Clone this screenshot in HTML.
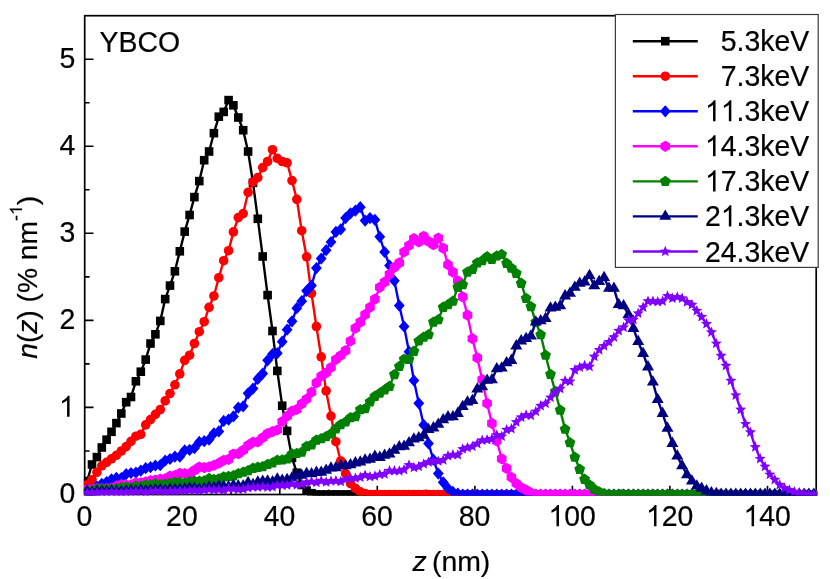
<!DOCTYPE html>
<html><head><meta charset="utf-8"><title>YBCO n(z)</title>
<style>
html,body{margin:0;padding:0;background:#fff;}
body{width:830px;height:579px;overflow:hidden;}
svg{display:block;will-change:transform;}
text{font-family:"Liberation Sans",sans-serif;font-size:28px;fill:#000;stroke:#000;stroke-width:0.2px;}
.i{font-style:italic;}
.h{fill:none;stroke:none;}
</style></head><body>
<svg width="830" height="579" viewBox="0 0 830 579">
<rect width="830" height="579" fill="#fff"/>
<defs>
<g id="sq"><rect x="-4.3" y="-4.3" width="8.6" height="8.6"/></g>
<g id="ci"><circle r="4.8"/></g>
<g id="di"><polygon points="0,-6.1 5.4,0 0,6.1 -5.4,0"/></g>
<g id="hx"><polygon points="0,-5.6 4.8,-2.8 4.8,2.8 0,5.6 -4.8,2.8 -4.8,-2.8"/></g>
<g id="pe"><polygon points="0,-5.7 5.4,-1.8 3.4,4.6 -3.4,4.6 -5.4,-1.8"/></g>
<g id="tr"><polygon points="0,-6.9 6,3.4 -6,3.4"/></g>
<g id="st"><polygon points="0,-5.8 1.5,-2.1 5.5,-1.8 2.5,0.8 3.4,4.7 0,2.6 -3.4,4.7 -2.5,0.8 -5.5,-1.8 -1.5,-2.1"/></g>
<path id="one" d="M763 0H583V1147Q518 1085 412.5 1023T223 930V1104Q373 1174.5 485.5 1275T644 1466H763Z"/>
<clipPath id="cp"><rect x="83.85" y="14.9" width="733.35" height="480.7"/></clipPath>
</defs>
<g stroke="#000" stroke-width="1.7" fill="none" stroke-linecap="butt">
<rect x="84.7" y="15.7" width="731.5" height="478.8"/>
<path d="M84.7 494.5h8.8M84.7 451h4.9M84.7 407.4h8.8M84.7 363.9h4.9M84.7 320.4h8.8M84.7 276.9h4.9M84.7 233.3h8.8M84.7 189.8h4.9M84.7 146.3h8.8M84.7 102.7h4.9M84.7 59.2h8.8M133.5 494.5v-4.9M182.2 494.5v-8.8M231 494.5v-4.9M279.8 494.5v-8.8M328.6 494.5v-4.9M377.3 494.5v-8.8M426.1 494.5v-4.9M474.9 494.5v-8.8M523.6 494.5v-4.9M572.4 494.5v-8.8M621.2 494.5v-4.9M669.9 494.5v-8.8M718.7 494.5v-4.9M767.5 494.5v-8.8" stroke-width="1.6"/>
</g>
<g transform="translate(75.4 503.4) scale(1.015 1.055)"><text text-anchor="end">0</text></g>
<g transform="translate(74.8 416.8) scale(1.015 1.055)"><text text-anchor="end"><tspan class="h">1</tspan></text><use href="#one" transform="translate(-15.58 0.00) scale(0.01367 -0.01367)"/></g>
<g transform="translate(75.4 329.3) scale(1.015 1.055)"><text text-anchor="end">2</text></g>
<g transform="translate(75.4 242.2) scale(1.015 1.055)"><text text-anchor="end">3</text></g>
<g transform="translate(75.4 155.2) scale(1.015 1.055)"><text text-anchor="end">4</text></g>
<g transform="translate(75.4 68.1) scale(1.015 1.055)"><text text-anchor="end">5</text></g>
<g transform="translate(84.4 526.2) scale(1.015 1.055)"><text text-anchor="middle">0</text></g>
<g transform="translate(181.9 526.2) scale(1.015 1.055)"><text text-anchor="middle">20</text></g>
<g transform="translate(279.5 526.2) scale(1.015 1.055)"><text text-anchor="middle">40</text></g>
<g transform="translate(377 526.2) scale(1.015 1.055)"><text text-anchor="middle">60</text></g>
<g transform="translate(474.6 526.2) scale(1.015 1.055)"><text text-anchor="middle">80</text></g>
<g transform="translate(572.1 526.2) scale(1.015 1.055)"><text text-anchor="middle"><tspan class="h">1</tspan>00</text><use href="#one" transform="translate(-23.36 0.00) scale(0.01367 -0.01367)"/></g>
<g transform="translate(669.6 526.2) scale(1.015 1.055)"><text text-anchor="middle"><tspan class="h">1</tspan>20</text><use href="#one" transform="translate(-23.36 0.00) scale(0.01367 -0.01367)"/></g>
<g transform="translate(767.2 526.2) scale(1.015 1.055)"><text text-anchor="middle"><tspan class="h">1</tspan>40</text><use href="#one" transform="translate(-23.36 0.00) scale(0.01367 -0.01367)"/></g>
<g transform="translate(99.6 51.8) scale(1.015 1.055)"><text>YBCO</text></g>
<g transform="translate(451.4 570.8) scale(1.015 1.0)"><text text-anchor="middle"><tspan class="i">z</tspan><tspan dx="-2.6"> (nm)</tspan></text></g>
<g transform="translate(37.3 358.8) rotate(-90) scale(1.007 1.0)"><text><tspan class="i">n</tspan>(<tspan class="i">z</tspan>) (% nm<tspan font-size="17.5" dy="-15.2">-<tspan class="h">1</tspan></tspan><tspan dy="15.2">)</tspan></text><use href="#one" transform="translate(142.66 -15.20) scale(0.00854 -0.00854)"/></g>
<g clip-path="url(#cp)">
<g fill="#000000" stroke="none">
<polyline points="87.1,481 92,464.5 96.9,457.1 101.8,447.5 106.6,439.7 111.5,431.8 116.4,423.1 121.3,413.5 126.2,402.2 131,397 135.9,381.3 140.8,371.7 145.7,359.6 150.5,343.5 155.4,334.3 160.3,320.9 165.2,299.1 170,285.6 174.9,271.3 179.8,251.3 184.7,231.6 189.6,215 194.4,197.1 199.3,181.1 204.2,160.2 209.1,151.5 213.9,133.2 218.8,116.7 223.7,111.9 228.6,100.1 233.4,105.3 238.3,117.5 243.2,130.2 248.1,151.5 253,182.8 257.8,218.8 262.7,256.5 267.6,295.1 272.5,331 277.3,370.9 282.2,405.7 287.1,430.9 292,457.9 296.8,472.7 301.7,484.9 306.6,490.6 311.5,493.2 316.4,494.5 321.2,494.5 326.1,494.5 331,494.5 335.9,494.5 340.7,494.5 345.6,494.5 350.5,494.5 355.4,494.5 360.3,494.5 365.1,494.5 370,494.5 374.9,494.5 379.8,494.5 384.6,494.5 389.5,494.5 394.4,494.5 399.3,494.5 404.1,494.5 409,494.5 413.9,494.5 418.8,494.5 423.7,494.5 428.5,494.5 433.4,494.5 438.3,494.5 443.2,494.5 448,494.5 452.9,494.5 457.8,494.5 462.7,494.5 467.5,494.5 472.4,494.5 477.3,494.5 482.2,494.5 487.1,494.5 491.9,494.5 496.8,494.5 501.7,494.5 506.6,494.5 511.4,494.5 516.3,494.5 521.2,494.5 526.1,494.5 530.9,494.5 535.8,494.5 540.7,494.5 545.6,494.5 550.5,494.5 555.3,494.5 560.2,494.5 565.1,494.5 570,494.5 574.8,494.5 579.7,494.5 584.6,494.5 589.5,494.5 594.3,494.5 599.2,494.5 604.1,494.5 609,494.5 613.9,494.5 618.7,494.5 623.6,494.5 628.5,494.5 633.4,494.5 638.2,494.5 643.1,494.5 648,494.5 652.9,494.5 657.7,494.5 662.6,494.5 667.5,494.5 672.4,494.5 677.3,494.5 682.1,494.5 687,494.5 691.9,494.5 696.8,494.5 701.6,494.5 706.5,494.5 711.4,494.5 716.3,494.5 721.1,494.5 726,494.5 730.9,494.5 735.8,494.5 740.7,494.5 745.5,494.5 750.4,494.5 755.3,494.5 760.2,494.5 765,494.5 769.9,494.5 774.8,494.5 779.7,494.5 784.5,494.5 789.4,494.5 794.3,494.5 799.2,494.5 804.1,494.5 808.9,494.5 813.8,494.5" fill="none" stroke="#000000" stroke-width="2.4" stroke-linejoin="round"/>
<use href="#sq" x="87.1" y="481"/><use href="#sq" x="92" y="464.5"/><use href="#sq" x="96.9" y="457.1"/><use href="#sq" x="101.8" y="447.5"/><use href="#sq" x="106.6" y="439.7"/><use href="#sq" x="111.5" y="431.8"/><use href="#sq" x="116.4" y="423.1"/><use href="#sq" x="121.3" y="413.5"/><use href="#sq" x="126.2" y="402.2"/><use href="#sq" x="131" y="397"/><use href="#sq" x="135.9" y="381.3"/><use href="#sq" x="140.8" y="371.7"/><use href="#sq" x="145.7" y="359.6"/><use href="#sq" x="150.5" y="343.5"/><use href="#sq" x="155.4" y="334.3"/><use href="#sq" x="160.3" y="320.9"/><use href="#sq" x="165.2" y="299.1"/><use href="#sq" x="170" y="285.6"/><use href="#sq" x="174.9" y="271.3"/><use href="#sq" x="179.8" y="251.3"/><use href="#sq" x="184.7" y="231.6"/><use href="#sq" x="189.6" y="215"/><use href="#sq" x="194.4" y="197.1"/><use href="#sq" x="199.3" y="181.1"/><use href="#sq" x="204.2" y="160.2"/><use href="#sq" x="209.1" y="151.5"/><use href="#sq" x="213.9" y="133.2"/><use href="#sq" x="218.8" y="116.7"/><use href="#sq" x="223.7" y="111.9"/><use href="#sq" x="228.6" y="100.1"/><use href="#sq" x="233.4" y="105.3"/><use href="#sq" x="238.3" y="117.5"/><use href="#sq" x="243.2" y="130.2"/><use href="#sq" x="248.1" y="151.5"/><use href="#sq" x="253" y="182.8"/><use href="#sq" x="257.8" y="218.8"/><use href="#sq" x="262.7" y="256.5"/><use href="#sq" x="267.6" y="295.1"/><use href="#sq" x="272.5" y="331"/><use href="#sq" x="277.3" y="370.9"/><use href="#sq" x="282.2" y="405.7"/><use href="#sq" x="287.1" y="430.9"/><use href="#sq" x="292" y="457.9"/><use href="#sq" x="296.8" y="472.7"/><use href="#sq" x="301.7" y="484.9"/><use href="#sq" x="306.6" y="490.6"/><use href="#sq" x="311.5" y="493.2"/><use href="#sq" x="316.4" y="494.5"/><use href="#sq" x="321.2" y="494.5"/><use href="#sq" x="326.1" y="494.5"/><use href="#sq" x="331" y="494.5"/><use href="#sq" x="335.9" y="494.5"/><use href="#sq" x="340.7" y="494.5"/><use href="#sq" x="345.6" y="494.5"/><use href="#sq" x="350.5" y="494.5"/><use href="#sq" x="355.4" y="494.5"/><use href="#sq" x="360.3" y="494.5"/><use href="#sq" x="365.1" y="494.5"/><use href="#sq" x="370" y="494.5"/><use href="#sq" x="374.9" y="494.5"/><use href="#sq" x="379.8" y="494.5"/><use href="#sq" x="384.6" y="494.5"/><use href="#sq" x="389.5" y="494.5"/><use href="#sq" x="394.4" y="494.5"/><use href="#sq" x="399.3" y="494.5"/><use href="#sq" x="404.1" y="494.5"/><use href="#sq" x="409" y="494.5"/><use href="#sq" x="413.9" y="494.5"/><use href="#sq" x="418.8" y="494.5"/><use href="#sq" x="423.7" y="494.5"/><use href="#sq" x="428.5" y="494.5"/><use href="#sq" x="433.4" y="494.5"/><use href="#sq" x="438.3" y="494.5"/><use href="#sq" x="443.2" y="494.5"/><use href="#sq" x="448" y="494.5"/><use href="#sq" x="452.9" y="494.5"/><use href="#sq" x="457.8" y="494.5"/><use href="#sq" x="462.7" y="494.5"/><use href="#sq" x="467.5" y="494.5"/><use href="#sq" x="472.4" y="494.5"/><use href="#sq" x="477.3" y="494.5"/><use href="#sq" x="482.2" y="494.5"/><use href="#sq" x="487.1" y="494.5"/><use href="#sq" x="491.9" y="494.5"/><use href="#sq" x="496.8" y="494.5"/><use href="#sq" x="501.7" y="494.5"/><use href="#sq" x="506.6" y="494.5"/><use href="#sq" x="511.4" y="494.5"/><use href="#sq" x="516.3" y="494.5"/><use href="#sq" x="521.2" y="494.5"/><use href="#sq" x="526.1" y="494.5"/><use href="#sq" x="530.9" y="494.5"/><use href="#sq" x="535.8" y="494.5"/><use href="#sq" x="540.7" y="494.5"/><use href="#sq" x="545.6" y="494.5"/><use href="#sq" x="550.5" y="494.5"/><use href="#sq" x="555.3" y="494.5"/><use href="#sq" x="560.2" y="494.5"/><use href="#sq" x="565.1" y="494.5"/><use href="#sq" x="570" y="494.5"/><use href="#sq" x="574.8" y="494.5"/><use href="#sq" x="579.7" y="494.5"/><use href="#sq" x="584.6" y="494.5"/><use href="#sq" x="589.5" y="494.5"/><use href="#sq" x="594.3" y="494.5"/><use href="#sq" x="599.2" y="494.5"/><use href="#sq" x="604.1" y="494.5"/><use href="#sq" x="609" y="494.5"/><use href="#sq" x="613.9" y="494.5"/><use href="#sq" x="618.7" y="494.5"/><use href="#sq" x="623.6" y="494.5"/><use href="#sq" x="628.5" y="494.5"/><use href="#sq" x="633.4" y="494.5"/><use href="#sq" x="638.2" y="494.5"/><use href="#sq" x="643.1" y="494.5"/><use href="#sq" x="648" y="494.5"/><use href="#sq" x="652.9" y="494.5"/><use href="#sq" x="657.7" y="494.5"/><use href="#sq" x="662.6" y="494.5"/><use href="#sq" x="667.5" y="494.5"/><use href="#sq" x="672.4" y="494.5"/><use href="#sq" x="677.3" y="494.5"/><use href="#sq" x="682.1" y="494.5"/><use href="#sq" x="687" y="494.5"/><use href="#sq" x="691.9" y="494.5"/><use href="#sq" x="696.8" y="494.5"/><use href="#sq" x="701.6" y="494.5"/><use href="#sq" x="706.5" y="494.5"/><use href="#sq" x="711.4" y="494.5"/><use href="#sq" x="716.3" y="494.5"/><use href="#sq" x="721.1" y="494.5"/><use href="#sq" x="726" y="494.5"/><use href="#sq" x="730.9" y="494.5"/><use href="#sq" x="735.8" y="494.5"/><use href="#sq" x="740.7" y="494.5"/><use href="#sq" x="745.5" y="494.5"/><use href="#sq" x="750.4" y="494.5"/><use href="#sq" x="755.3" y="494.5"/><use href="#sq" x="760.2" y="494.5"/><use href="#sq" x="765" y="494.5"/><use href="#sq" x="769.9" y="494.5"/><use href="#sq" x="774.8" y="494.5"/><use href="#sq" x="779.7" y="494.5"/><use href="#sq" x="784.5" y="494.5"/><use href="#sq" x="789.4" y="494.5"/><use href="#sq" x="794.3" y="494.5"/><use href="#sq" x="799.2" y="494.5"/><use href="#sq" x="804.1" y="494.5"/><use href="#sq" x="808.9" y="494.5"/><use href="#sq" x="813.8" y="494.5"/>
</g>
<g fill="#ff0000" stroke="none">
<polyline points="87.1,484.9 92,479.7 96.9,472.3 101.8,465.8 106.6,462.3 111.5,458.8 116.4,455.3 121.3,451 126.2,446.6 131,441.4 135.9,436.2 140.8,434.4 145.7,424.9 150.5,419.6 155.4,414.4 160.3,409.6 165.2,400.9 170,393.5 174.9,384.8 179.8,373.9 184.7,360.4 189.6,355.2 194.4,343.5 199.3,331.7 204.2,321.7 209.1,307.3 213.9,296 218.8,277.7 223.7,260.7 228.6,250.7 233.4,231.9 238.3,217.6 243.2,213.6 248.1,192.4 253,182 257.8,177.6 262.7,167.6 267.6,161.5 272.5,149.7 277.3,158.4 282.2,161.5 287.1,162.8 292,180.6 296.8,199.4 301.7,230.7 306.6,256.8 311.5,293.4 316.4,326.5 321.2,356.9 326.1,390.9 331,416.1 335.9,441.7 340.7,461 345.6,473.6 350.5,483.5 355.4,488.4 360.3,491.9 365.1,493.6 370,494.5 374.9,494.5 379.8,494.5 384.6,494.5 389.5,494.5 394.4,494.5 399.3,494.5 404.1,494.5 409,494.5 413.9,494.5 418.8,494.5 423.7,494.5 428.5,494.5 433.4,494.5 438.3,494.5 443.2,494.5 448,494.5 452.9,494.5 457.8,494.5 462.7,494.5 467.5,494.5 472.4,494.5 477.3,494.5 482.2,494.5 487.1,494.5 491.9,494.5 496.8,494.5 501.7,494.5 506.6,494.5 511.4,494.5 516.3,494.5 521.2,494.5 526.1,494.5 530.9,494.5 535.8,494.5 540.7,494.5 545.6,494.5 550.5,494.5 555.3,494.5 560.2,494.5 565.1,494.5 570,494.5 574.8,494.5 579.7,494.5 584.6,494.5 589.5,494.5 594.3,494.5 599.2,494.5 604.1,494.5 609,494.5 613.9,494.5 618.7,494.5 623.6,494.5 628.5,494.5 633.4,494.5 638.2,494.5 643.1,494.5 648,494.5 652.9,494.5 657.7,494.5 662.6,494.5 667.5,494.5 672.4,494.5 677.3,494.5 682.1,494.5 687,494.5 691.9,494.5 696.8,494.5 701.6,494.5 706.5,494.5 711.4,494.5 716.3,494.5 721.1,494.5 726,494.5 730.9,494.5 735.8,494.5 740.7,494.5 745.5,494.5 750.4,494.5 755.3,494.5 760.2,494.5 765,494.5 769.9,494.5 774.8,494.5 779.7,494.5 784.5,494.5 789.4,494.5 794.3,494.5 799.2,494.5 804.1,494.5 808.9,494.5 813.8,494.5" fill="none" stroke="#ff0000" stroke-width="2.4" stroke-linejoin="round"/>
<use href="#ci" x="87.1" y="484.9"/><use href="#ci" x="92" y="479.7"/><use href="#ci" x="96.9" y="472.3"/><use href="#ci" x="101.8" y="465.8"/><use href="#ci" x="106.6" y="462.3"/><use href="#ci" x="111.5" y="458.8"/><use href="#ci" x="116.4" y="455.3"/><use href="#ci" x="121.3" y="451"/><use href="#ci" x="126.2" y="446.6"/><use href="#ci" x="131" y="441.4"/><use href="#ci" x="135.9" y="436.2"/><use href="#ci" x="140.8" y="434.4"/><use href="#ci" x="145.7" y="424.9"/><use href="#ci" x="150.5" y="419.6"/><use href="#ci" x="155.4" y="414.4"/><use href="#ci" x="160.3" y="409.6"/><use href="#ci" x="165.2" y="400.9"/><use href="#ci" x="170" y="393.5"/><use href="#ci" x="174.9" y="384.8"/><use href="#ci" x="179.8" y="373.9"/><use href="#ci" x="184.7" y="360.4"/><use href="#ci" x="189.6" y="355.2"/><use href="#ci" x="194.4" y="343.5"/><use href="#ci" x="199.3" y="331.7"/><use href="#ci" x="204.2" y="321.7"/><use href="#ci" x="209.1" y="307.3"/><use href="#ci" x="213.9" y="296"/><use href="#ci" x="218.8" y="277.7"/><use href="#ci" x="223.7" y="260.7"/><use href="#ci" x="228.6" y="250.7"/><use href="#ci" x="233.4" y="231.9"/><use href="#ci" x="238.3" y="217.6"/><use href="#ci" x="243.2" y="213.6"/><use href="#ci" x="248.1" y="192.4"/><use href="#ci" x="253" y="182"/><use href="#ci" x="257.8" y="177.6"/><use href="#ci" x="262.7" y="167.6"/><use href="#ci" x="267.6" y="161.5"/><use href="#ci" x="272.5" y="149.7"/><use href="#ci" x="277.3" y="158.4"/><use href="#ci" x="282.2" y="161.5"/><use href="#ci" x="287.1" y="162.8"/><use href="#ci" x="292" y="180.6"/><use href="#ci" x="296.8" y="199.4"/><use href="#ci" x="301.7" y="230.7"/><use href="#ci" x="306.6" y="256.8"/><use href="#ci" x="311.5" y="293.4"/><use href="#ci" x="316.4" y="326.5"/><use href="#ci" x="321.2" y="356.9"/><use href="#ci" x="326.1" y="390.9"/><use href="#ci" x="331" y="416.1"/><use href="#ci" x="335.9" y="441.7"/><use href="#ci" x="340.7" y="461"/><use href="#ci" x="345.6" y="473.6"/><use href="#ci" x="350.5" y="483.5"/><use href="#ci" x="355.4" y="488.4"/><use href="#ci" x="360.3" y="491.9"/><use href="#ci" x="365.1" y="493.6"/><use href="#ci" x="370" y="494.5"/><use href="#ci" x="374.9" y="494.5"/><use href="#ci" x="379.8" y="494.5"/><use href="#ci" x="384.6" y="494.5"/><use href="#ci" x="389.5" y="494.5"/><use href="#ci" x="394.4" y="494.5"/><use href="#ci" x="399.3" y="494.5"/><use href="#ci" x="404.1" y="494.5"/><use href="#ci" x="409" y="494.5"/><use href="#ci" x="413.9" y="494.5"/><use href="#ci" x="418.8" y="494.5"/><use href="#ci" x="423.7" y="494.5"/><use href="#ci" x="428.5" y="494.5"/><use href="#ci" x="433.4" y="494.5"/><use href="#ci" x="438.3" y="494.5"/><use href="#ci" x="443.2" y="494.5"/><use href="#ci" x="448" y="494.5"/><use href="#ci" x="452.9" y="494.5"/><use href="#ci" x="457.8" y="494.5"/><use href="#ci" x="462.7" y="494.5"/><use href="#ci" x="467.5" y="494.5"/><use href="#ci" x="472.4" y="494.5"/><use href="#ci" x="477.3" y="494.5"/><use href="#ci" x="482.2" y="494.5"/><use href="#ci" x="487.1" y="494.5"/><use href="#ci" x="491.9" y="494.5"/><use href="#ci" x="496.8" y="494.5"/><use href="#ci" x="501.7" y="494.5"/><use href="#ci" x="506.6" y="494.5"/><use href="#ci" x="511.4" y="494.5"/><use href="#ci" x="516.3" y="494.5"/><use href="#ci" x="521.2" y="494.5"/><use href="#ci" x="526.1" y="494.5"/><use href="#ci" x="530.9" y="494.5"/><use href="#ci" x="535.8" y="494.5"/><use href="#ci" x="540.7" y="494.5"/><use href="#ci" x="545.6" y="494.5"/><use href="#ci" x="550.5" y="494.5"/><use href="#ci" x="555.3" y="494.5"/><use href="#ci" x="560.2" y="494.5"/><use href="#ci" x="565.1" y="494.5"/><use href="#ci" x="570" y="494.5"/><use href="#ci" x="574.8" y="494.5"/><use href="#ci" x="579.7" y="494.5"/><use href="#ci" x="584.6" y="494.5"/><use href="#ci" x="589.5" y="494.5"/><use href="#ci" x="594.3" y="494.5"/><use href="#ci" x="599.2" y="494.5"/><use href="#ci" x="604.1" y="494.5"/><use href="#ci" x="609" y="494.5"/><use href="#ci" x="613.9" y="494.5"/><use href="#ci" x="618.7" y="494.5"/><use href="#ci" x="623.6" y="494.5"/><use href="#ci" x="628.5" y="494.5"/><use href="#ci" x="633.4" y="494.5"/><use href="#ci" x="638.2" y="494.5"/><use href="#ci" x="643.1" y="494.5"/><use href="#ci" x="648" y="494.5"/><use href="#ci" x="652.9" y="494.5"/><use href="#ci" x="657.7" y="494.5"/><use href="#ci" x="662.6" y="494.5"/><use href="#ci" x="667.5" y="494.5"/><use href="#ci" x="672.4" y="494.5"/><use href="#ci" x="677.3" y="494.5"/><use href="#ci" x="682.1" y="494.5"/><use href="#ci" x="687" y="494.5"/><use href="#ci" x="691.9" y="494.5"/><use href="#ci" x="696.8" y="494.5"/><use href="#ci" x="701.6" y="494.5"/><use href="#ci" x="706.5" y="494.5"/><use href="#ci" x="711.4" y="494.5"/><use href="#ci" x="716.3" y="494.5"/><use href="#ci" x="721.1" y="494.5"/><use href="#ci" x="726" y="494.5"/><use href="#ci" x="730.9" y="494.5"/><use href="#ci" x="735.8" y="494.5"/><use href="#ci" x="740.7" y="494.5"/><use href="#ci" x="745.5" y="494.5"/><use href="#ci" x="750.4" y="494.5"/><use href="#ci" x="755.3" y="494.5"/><use href="#ci" x="760.2" y="494.5"/><use href="#ci" x="765" y="494.5"/><use href="#ci" x="769.9" y="494.5"/><use href="#ci" x="774.8" y="494.5"/><use href="#ci" x="779.7" y="494.5"/><use href="#ci" x="784.5" y="494.5"/><use href="#ci" x="789.4" y="494.5"/><use href="#ci" x="794.3" y="494.5"/><use href="#ci" x="799.2" y="494.5"/><use href="#ci" x="804.1" y="494.5"/><use href="#ci" x="808.9" y="494.5"/><use href="#ci" x="813.8" y="494.5"/>
</g>
<g fill="#0000ff" stroke="none">
<polyline points="87.1,489.9 92,489.5 96.9,486.6 101.8,483.8 106.6,482.1 111.5,479.3 116.4,477.9 121.3,478 126.2,474.1 131,473 135.9,472.7 140.8,470.6 145.7,468.2 150.5,467.2 155.4,465.5 160.3,465.2 165.2,460.6 170,459 174.9,456.6 179.8,456.7 184.7,450.3 189.6,449.9 194.4,448.2 199.3,441.9 204.2,441.2 209.1,439.6 213.9,433.3 218.8,431.4 223.7,420.9 228.6,419.6 233.4,416.4 238.3,407.6 243.2,406.3 248.1,393.3 253,388.6 257.8,378.9 262.7,373.6 267.6,360.3 272.5,354 277.3,353.2 282.2,341.7 287.1,329.7 292,321.3 296.8,308.2 301.7,301.2 306.6,290.8 311.5,285.6 316.4,268.1 321.2,258.6 326.1,250.2 331,242 335.9,231.9 340.7,229.4 345.6,218.1 350.5,213.3 355.4,210.7 360.3,207.2 365.1,220.6 370,218.1 374.9,219.8 379.8,236.8 384.6,252 389.5,265.5 394.4,280.8 399.3,305.6 404.1,326.5 409,351.7 413.9,380.5 418.8,403.3 423.7,424.9 428.5,443.5 433.4,459.7 438.3,473.6 443.2,482.3 448,488.4 452.9,491.9 457.8,493.6 462.7,494.5 467.5,494.5 472.4,494.5 477.3,494.5 482.2,494.5 487.1,494.5 491.9,494.5 496.8,494.5 501.7,494.5 506.6,494.5 511.4,494.5 516.3,494.5 521.2,494.5 526.1,494.5 530.9,494.5 535.8,494.5 540.7,494.5 545.6,494.5 550.5,494.5 555.3,494.5 560.2,494.5 565.1,494.5 570,494.5 574.8,494.5 579.7,494.5 584.6,494.5 589.5,494.5 594.3,494.5 599.2,494.5 604.1,494.5 609,494.5 613.9,494.5 618.7,494.5 623.6,494.5 628.5,494.5 633.4,494.5 638.2,494.5 643.1,494.5 648,494.5 652.9,494.5 657.7,494.5 662.6,494.5 667.5,494.5 672.4,494.5 677.3,494.5 682.1,494.5 687,494.5 691.9,494.5 696.8,494.5 701.6,494.5 706.5,494.5 711.4,494.5 716.3,494.5 721.1,494.5 726,494.5 730.9,494.5 735.8,494.5 740.7,494.5 745.5,494.5 750.4,494.5 755.3,494.5 760.2,494.5 765,494.5 769.9,494.5 774.8,494.5 779.7,494.5 784.5,494.5 789.4,494.5 794.3,494.5 799.2,494.5 804.1,494.5 808.9,494.5 813.8,494.5" fill="none" stroke="#0000ff" stroke-width="2.4" stroke-linejoin="round"/>
<use href="#di" x="87.1" y="489.9"/><use href="#di" x="92" y="489.5"/><use href="#di" x="96.9" y="486.6"/><use href="#di" x="101.8" y="483.8"/><use href="#di" x="106.6" y="482.1"/><use href="#di" x="111.5" y="479.3"/><use href="#di" x="116.4" y="477.9"/><use href="#di" x="121.3" y="478"/><use href="#di" x="126.2" y="474.1"/><use href="#di" x="131" y="473"/><use href="#di" x="135.9" y="472.7"/><use href="#di" x="140.8" y="470.6"/><use href="#di" x="145.7" y="468.2"/><use href="#di" x="150.5" y="467.2"/><use href="#di" x="155.4" y="465.5"/><use href="#di" x="160.3" y="465.2"/><use href="#di" x="165.2" y="460.6"/><use href="#di" x="170" y="459"/><use href="#di" x="174.9" y="456.6"/><use href="#di" x="179.8" y="456.7"/><use href="#di" x="184.7" y="450.3"/><use href="#di" x="189.6" y="449.9"/><use href="#di" x="194.4" y="448.2"/><use href="#di" x="199.3" y="441.9"/><use href="#di" x="204.2" y="441.2"/><use href="#di" x="209.1" y="439.6"/><use href="#di" x="213.9" y="433.3"/><use href="#di" x="218.8" y="431.4"/><use href="#di" x="223.7" y="420.9"/><use href="#di" x="228.6" y="419.6"/><use href="#di" x="233.4" y="416.4"/><use href="#di" x="238.3" y="407.6"/><use href="#di" x="243.2" y="406.3"/><use href="#di" x="248.1" y="393.3"/><use href="#di" x="253" y="388.6"/><use href="#di" x="257.8" y="378.9"/><use href="#di" x="262.7" y="373.6"/><use href="#di" x="267.6" y="360.3"/><use href="#di" x="272.5" y="354"/><use href="#di" x="277.3" y="353.2"/><use href="#di" x="282.2" y="341.7"/><use href="#di" x="287.1" y="329.7"/><use href="#di" x="292" y="321.3"/><use href="#di" x="296.8" y="308.2"/><use href="#di" x="301.7" y="301.2"/><use href="#di" x="306.6" y="290.8"/><use href="#di" x="311.5" y="285.6"/><use href="#di" x="316.4" y="268.1"/><use href="#di" x="321.2" y="258.6"/><use href="#di" x="326.1" y="250.2"/><use href="#di" x="331" y="242"/><use href="#di" x="335.9" y="231.9"/><use href="#di" x="340.7" y="229.4"/><use href="#di" x="345.6" y="218.1"/><use href="#di" x="350.5" y="213.3"/><use href="#di" x="355.4" y="210.7"/><use href="#di" x="360.3" y="207.2"/><use href="#di" x="365.1" y="220.6"/><use href="#di" x="370" y="218.1"/><use href="#di" x="374.9" y="219.8"/><use href="#di" x="379.8" y="236.8"/><use href="#di" x="384.6" y="252"/><use href="#di" x="389.5" y="265.5"/><use href="#di" x="394.4" y="280.8"/><use href="#di" x="399.3" y="305.6"/><use href="#di" x="404.1" y="326.5"/><use href="#di" x="409" y="351.7"/><use href="#di" x="413.9" y="380.5"/><use href="#di" x="418.8" y="403.3"/><use href="#di" x="423.7" y="424.9"/><use href="#di" x="428.5" y="443.5"/><use href="#di" x="433.4" y="459.7"/><use href="#di" x="438.3" y="473.6"/><use href="#di" x="443.2" y="482.3"/><use href="#di" x="448" y="488.4"/><use href="#di" x="452.9" y="491.9"/><use href="#di" x="457.8" y="493.6"/><use href="#di" x="462.7" y="494.5"/><use href="#di" x="467.5" y="494.5"/><use href="#di" x="472.4" y="494.5"/><use href="#di" x="477.3" y="494.5"/><use href="#di" x="482.2" y="494.5"/><use href="#di" x="487.1" y="494.5"/><use href="#di" x="491.9" y="494.5"/><use href="#di" x="496.8" y="494.5"/><use href="#di" x="501.7" y="494.5"/><use href="#di" x="506.6" y="494.5"/><use href="#di" x="511.4" y="494.5"/><use href="#di" x="516.3" y="494.5"/><use href="#di" x="521.2" y="494.5"/><use href="#di" x="526.1" y="494.5"/><use href="#di" x="530.9" y="494.5"/><use href="#di" x="535.8" y="494.5"/><use href="#di" x="540.7" y="494.5"/><use href="#di" x="545.6" y="494.5"/><use href="#di" x="550.5" y="494.5"/><use href="#di" x="555.3" y="494.5"/><use href="#di" x="560.2" y="494.5"/><use href="#di" x="565.1" y="494.5"/><use href="#di" x="570" y="494.5"/><use href="#di" x="574.8" y="494.5"/><use href="#di" x="579.7" y="494.5"/><use href="#di" x="584.6" y="494.5"/><use href="#di" x="589.5" y="494.5"/><use href="#di" x="594.3" y="494.5"/><use href="#di" x="599.2" y="494.5"/><use href="#di" x="604.1" y="494.5"/><use href="#di" x="609" y="494.5"/><use href="#di" x="613.9" y="494.5"/><use href="#di" x="618.7" y="494.5"/><use href="#di" x="623.6" y="494.5"/><use href="#di" x="628.5" y="494.5"/><use href="#di" x="633.4" y="494.5"/><use href="#di" x="638.2" y="494.5"/><use href="#di" x="643.1" y="494.5"/><use href="#di" x="648" y="494.5"/><use href="#di" x="652.9" y="494.5"/><use href="#di" x="657.7" y="494.5"/><use href="#di" x="662.6" y="494.5"/><use href="#di" x="667.5" y="494.5"/><use href="#di" x="672.4" y="494.5"/><use href="#di" x="677.3" y="494.5"/><use href="#di" x="682.1" y="494.5"/><use href="#di" x="687" y="494.5"/><use href="#di" x="691.9" y="494.5"/><use href="#di" x="696.8" y="494.5"/><use href="#di" x="701.6" y="494.5"/><use href="#di" x="706.5" y="494.5"/><use href="#di" x="711.4" y="494.5"/><use href="#di" x="716.3" y="494.5"/><use href="#di" x="721.1" y="494.5"/><use href="#di" x="726" y="494.5"/><use href="#di" x="730.9" y="494.5"/><use href="#di" x="735.8" y="494.5"/><use href="#di" x="740.7" y="494.5"/><use href="#di" x="745.5" y="494.5"/><use href="#di" x="750.4" y="494.5"/><use href="#di" x="755.3" y="494.5"/><use href="#di" x="760.2" y="494.5"/><use href="#di" x="765" y="494.5"/><use href="#di" x="769.9" y="494.5"/><use href="#di" x="774.8" y="494.5"/><use href="#di" x="779.7" y="494.5"/><use href="#di" x="784.5" y="494.5"/><use href="#di" x="789.4" y="494.5"/><use href="#di" x="794.3" y="494.5"/><use href="#di" x="799.2" y="494.5"/><use href="#di" x="804.1" y="494.5"/><use href="#di" x="808.9" y="494.5"/><use href="#di" x="813.8" y="494.5"/>
</g>
<g fill="#ff00ff" stroke="none">
<polyline points="87.1,489.8 92,489.6 96.9,488.6 101.8,488.7 106.6,488.6 111.5,488.1 116.4,486.2 121.3,484.5 126.2,485.1 131,484.9 135.9,482.7 140.8,482.8 145.7,481.8 150.5,480.7 155.4,480 160.3,479.1 165.2,478.9 170,476.2 174.9,475.6 179.8,473.3 184.7,473.6 189.6,473.7 194.4,470.4 199.3,467 204.2,467.7 209.1,466.8 213.9,465.3 218.8,463.2 223.7,460.3 228.6,459.4 233.4,454 238.3,453.7 243.2,450.2 248.1,445.4 253,442.2 257.8,441.8 262.7,437.7 267.6,433.6 272.5,431.6 277.3,430 282.2,421.5 287.1,416.2 292,411.2 296.8,409.4 301.7,403.8 306.6,399 311.5,392.2 316.4,382.8 321.2,376.2 326.1,372.8 331,367.5 335.9,359.5 340.7,355.5 345.6,350.6 350.5,341 355.4,328.2 360.3,322.1 365.1,314.6 370,307.3 374.9,299.1 379.8,287.3 384.6,282.1 389.5,274.2 394.4,267.3 399.3,262.9 404.1,252 409,245.5 413.9,238.5 418.8,242 423.7,236.4 428.5,241.4 433.4,244.6 438.3,238.1 443.2,248.1 448,264.7 452.9,272.1 457.8,280.8 462.7,296.9 467.5,315.2 472.4,338.7 477.3,357.8 482.2,379.6 487.1,403.3 491.9,423.4 496.8,441 501.7,458.8 506.6,468.4 511.4,477.3 516.3,483.5 521.2,487.5 526.1,490.1 530.9,492.8 535.8,494.5 540.7,494.5 545.6,494.5 550.5,494.5 555.3,494.5 560.2,494.5 565.1,494.5 570,494.5 574.8,494.5 579.7,494.5 584.6,494.5 589.5,494.5 594.3,494.5 599.2,494.5 604.1,494.5 609,494.5 613.9,494.5 618.7,494.5 623.6,494.5 628.5,494.5 633.4,494.5 638.2,494.5 643.1,494.5 648,494.5 652.9,494.5 657.7,494.5 662.6,494.5 667.5,494.5 672.4,494.5 677.3,494.5 682.1,494.5 687,494.5 691.9,494.5 696.8,494.5 701.6,494.5 706.5,494.5 711.4,494.5 716.3,494.5 721.1,494.5 726,494.5 730.9,494.5 735.8,494.5 740.7,494.5 745.5,494.5 750.4,494.5 755.3,494.5 760.2,494.5 765,494.5 769.9,494.5 774.8,494.5 779.7,494.5 784.5,494.5 789.4,494.5 794.3,494.5 799.2,494.5 804.1,494.5 808.9,494.5 813.8,494.5" fill="none" stroke="#ff00ff" stroke-width="2.4" stroke-linejoin="round"/>
<use href="#hx" x="87.1" y="489.8"/><use href="#hx" x="92" y="489.6"/><use href="#hx" x="96.9" y="488.6"/><use href="#hx" x="101.8" y="488.7"/><use href="#hx" x="106.6" y="488.6"/><use href="#hx" x="111.5" y="488.1"/><use href="#hx" x="116.4" y="486.2"/><use href="#hx" x="121.3" y="484.5"/><use href="#hx" x="126.2" y="485.1"/><use href="#hx" x="131" y="484.9"/><use href="#hx" x="135.9" y="482.7"/><use href="#hx" x="140.8" y="482.8"/><use href="#hx" x="145.7" y="481.8"/><use href="#hx" x="150.5" y="480.7"/><use href="#hx" x="155.4" y="480"/><use href="#hx" x="160.3" y="479.1"/><use href="#hx" x="165.2" y="478.9"/><use href="#hx" x="170" y="476.2"/><use href="#hx" x="174.9" y="475.6"/><use href="#hx" x="179.8" y="473.3"/><use href="#hx" x="184.7" y="473.6"/><use href="#hx" x="189.6" y="473.7"/><use href="#hx" x="194.4" y="470.4"/><use href="#hx" x="199.3" y="467"/><use href="#hx" x="204.2" y="467.7"/><use href="#hx" x="209.1" y="466.8"/><use href="#hx" x="213.9" y="465.3"/><use href="#hx" x="218.8" y="463.2"/><use href="#hx" x="223.7" y="460.3"/><use href="#hx" x="228.6" y="459.4"/><use href="#hx" x="233.4" y="454"/><use href="#hx" x="238.3" y="453.7"/><use href="#hx" x="243.2" y="450.2"/><use href="#hx" x="248.1" y="445.4"/><use href="#hx" x="253" y="442.2"/><use href="#hx" x="257.8" y="441.8"/><use href="#hx" x="262.7" y="437.7"/><use href="#hx" x="267.6" y="433.6"/><use href="#hx" x="272.5" y="431.6"/><use href="#hx" x="277.3" y="430"/><use href="#hx" x="282.2" y="421.5"/><use href="#hx" x="287.1" y="416.2"/><use href="#hx" x="292" y="411.2"/><use href="#hx" x="296.8" y="409.4"/><use href="#hx" x="301.7" y="403.8"/><use href="#hx" x="306.6" y="399"/><use href="#hx" x="311.5" y="392.2"/><use href="#hx" x="316.4" y="382.8"/><use href="#hx" x="321.2" y="376.2"/><use href="#hx" x="326.1" y="372.8"/><use href="#hx" x="331" y="367.5"/><use href="#hx" x="335.9" y="359.5"/><use href="#hx" x="340.7" y="355.5"/><use href="#hx" x="345.6" y="350.6"/><use href="#hx" x="350.5" y="341"/><use href="#hx" x="355.4" y="328.2"/><use href="#hx" x="360.3" y="322.1"/><use href="#hx" x="365.1" y="314.6"/><use href="#hx" x="370" y="307.3"/><use href="#hx" x="374.9" y="299.1"/><use href="#hx" x="379.8" y="287.3"/><use href="#hx" x="384.6" y="282.1"/><use href="#hx" x="389.5" y="274.2"/><use href="#hx" x="394.4" y="267.3"/><use href="#hx" x="399.3" y="262.9"/><use href="#hx" x="404.1" y="252"/><use href="#hx" x="409" y="245.5"/><use href="#hx" x="413.9" y="238.5"/><use href="#hx" x="418.8" y="242"/><use href="#hx" x="423.7" y="236.4"/><use href="#hx" x="428.5" y="241.4"/><use href="#hx" x="433.4" y="244.6"/><use href="#hx" x="438.3" y="238.1"/><use href="#hx" x="443.2" y="248.1"/><use href="#hx" x="448" y="264.7"/><use href="#hx" x="452.9" y="272.1"/><use href="#hx" x="457.8" y="280.8"/><use href="#hx" x="462.7" y="296.9"/><use href="#hx" x="467.5" y="315.2"/><use href="#hx" x="472.4" y="338.7"/><use href="#hx" x="477.3" y="357.8"/><use href="#hx" x="482.2" y="379.6"/><use href="#hx" x="487.1" y="403.3"/><use href="#hx" x="491.9" y="423.4"/><use href="#hx" x="496.8" y="441"/><use href="#hx" x="501.7" y="458.8"/><use href="#hx" x="506.6" y="468.4"/><use href="#hx" x="511.4" y="477.3"/><use href="#hx" x="516.3" y="483.5"/><use href="#hx" x="521.2" y="487.5"/><use href="#hx" x="526.1" y="490.1"/><use href="#hx" x="530.9" y="492.8"/><use href="#hx" x="535.8" y="494.5"/><use href="#hx" x="540.7" y="494.5"/><use href="#hx" x="545.6" y="494.5"/><use href="#hx" x="550.5" y="494.5"/><use href="#hx" x="555.3" y="494.5"/><use href="#hx" x="560.2" y="494.5"/><use href="#hx" x="565.1" y="494.5"/><use href="#hx" x="570" y="494.5"/><use href="#hx" x="574.8" y="494.5"/><use href="#hx" x="579.7" y="494.5"/><use href="#hx" x="584.6" y="494.5"/><use href="#hx" x="589.5" y="494.5"/><use href="#hx" x="594.3" y="494.5"/><use href="#hx" x="599.2" y="494.5"/><use href="#hx" x="604.1" y="494.5"/><use href="#hx" x="609" y="494.5"/><use href="#hx" x="613.9" y="494.5"/><use href="#hx" x="618.7" y="494.5"/><use href="#hx" x="623.6" y="494.5"/><use href="#hx" x="628.5" y="494.5"/><use href="#hx" x="633.4" y="494.5"/><use href="#hx" x="638.2" y="494.5"/><use href="#hx" x="643.1" y="494.5"/><use href="#hx" x="648" y="494.5"/><use href="#hx" x="652.9" y="494.5"/><use href="#hx" x="657.7" y="494.5"/><use href="#hx" x="662.6" y="494.5"/><use href="#hx" x="667.5" y="494.5"/><use href="#hx" x="672.4" y="494.5"/><use href="#hx" x="677.3" y="494.5"/><use href="#hx" x="682.1" y="494.5"/><use href="#hx" x="687" y="494.5"/><use href="#hx" x="691.9" y="494.5"/><use href="#hx" x="696.8" y="494.5"/><use href="#hx" x="701.6" y="494.5"/><use href="#hx" x="706.5" y="494.5"/><use href="#hx" x="711.4" y="494.5"/><use href="#hx" x="716.3" y="494.5"/><use href="#hx" x="721.1" y="494.5"/><use href="#hx" x="726" y="494.5"/><use href="#hx" x="730.9" y="494.5"/><use href="#hx" x="735.8" y="494.5"/><use href="#hx" x="740.7" y="494.5"/><use href="#hx" x="745.5" y="494.5"/><use href="#hx" x="750.4" y="494.5"/><use href="#hx" x="755.3" y="494.5"/><use href="#hx" x="760.2" y="494.5"/><use href="#hx" x="765" y="494.5"/><use href="#hx" x="769.9" y="494.5"/><use href="#hx" x="774.8" y="494.5"/><use href="#hx" x="779.7" y="494.5"/><use href="#hx" x="784.5" y="494.5"/><use href="#hx" x="789.4" y="494.5"/><use href="#hx" x="794.3" y="494.5"/><use href="#hx" x="799.2" y="494.5"/><use href="#hx" x="804.1" y="494.5"/><use href="#hx" x="808.9" y="494.5"/><use href="#hx" x="813.8" y="494.5"/>
</g>
<g fill="#008000" stroke="none">
<polyline points="87.1,491.3 92,490.6 96.9,489.2 101.8,489.3 106.6,489.4 111.5,489.1 116.4,488.8 121.3,487.7 126.2,487.3 131,487.9 135.9,486.3 140.8,486.5 145.7,484.9 150.5,485.2 155.4,483.8 160.3,484.8 165.2,484.3 170,483.4 174.9,482.5 179.8,482.4 184.7,483.2 189.6,481.7 194.4,481.3 199.3,481.2 204.2,480.9 209.1,478.5 213.9,479.4 218.8,478.9 223.7,476.9 228.6,476.4 233.4,475.8 238.3,473.6 243.2,472.2 248.1,470.6 253,468.3 257.8,467.3 262.7,466.6 267.6,464.5 272.5,462.9 277.3,460.2 282.2,460 287.1,458.9 292,454 296.8,453.5 301.7,452.1 306.6,446.4 311.5,444.9 316.4,440.1 321.2,438.7 326.1,436.6 331,433.8 335.9,428.8 340.7,424.6 345.6,422 350.5,417.7 355.4,416.7 360.3,409.6 365.1,408.7 370,401.9 374.9,396.3 379.8,393.2 384.6,390 389.5,386.4 394.4,374.6 399.3,366.5 404.1,359.2 409,359.3 413.9,351.3 418.8,341 423.7,337.2 428.5,334.7 433.4,322.1 438.3,319.7 443.2,307.3 448,304.7 452.9,301.2 457.8,287.3 462.7,284.7 467.5,272.1 472.4,269.5 477.3,262.9 482.2,260.7 487.1,256.8 491.9,259.4 496.8,256 501.7,254.5 506.6,263.3 511.4,268.1 516.3,273.4 521.2,283.3 526.1,298.4 530.9,306.6 535.8,322.1 540.7,334.7 545.6,355.2 550.5,374.4 555.3,391.5 560.2,410.1 565.1,429.2 570,442.7 574.8,457.2 579.7,469.3 584.6,479.3 589.5,484.9 594.3,489.3 599.2,491.9 604.1,493.6 609,494.5 613.9,494.5 618.7,494.5 623.6,494.5 628.5,494.5 633.4,494.5 638.2,494.5 643.1,494.5 648,494.5 652.9,494.5 657.7,494.5 662.6,494.5 667.5,494.5 672.4,494.5 677.3,494.5 682.1,494.5 687,494.5 691.9,494.5 696.8,494.5 701.6,494.5 706.5,494.5 711.4,494.5 716.3,494.5 721.1,494.5 726,494.5 730.9,494.5 735.8,494.5 740.7,494.5 745.5,494.5 750.4,494.5 755.3,494.5 760.2,494.5 765,494.5 769.9,494.5 774.8,494.5 779.7,494.5 784.5,494.5 789.4,494.5 794.3,494.5 799.2,494.5 804.1,494.5 808.9,494.5 813.8,494.5" fill="none" stroke="#008000" stroke-width="2.4" stroke-linejoin="round"/>
<use href="#pe" x="87.1" y="491.3"/><use href="#pe" x="92" y="490.6"/><use href="#pe" x="96.9" y="489.2"/><use href="#pe" x="101.8" y="489.3"/><use href="#pe" x="106.6" y="489.4"/><use href="#pe" x="111.5" y="489.1"/><use href="#pe" x="116.4" y="488.8"/><use href="#pe" x="121.3" y="487.7"/><use href="#pe" x="126.2" y="487.3"/><use href="#pe" x="131" y="487.9"/><use href="#pe" x="135.9" y="486.3"/><use href="#pe" x="140.8" y="486.5"/><use href="#pe" x="145.7" y="484.9"/><use href="#pe" x="150.5" y="485.2"/><use href="#pe" x="155.4" y="483.8"/><use href="#pe" x="160.3" y="484.8"/><use href="#pe" x="165.2" y="484.3"/><use href="#pe" x="170" y="483.4"/><use href="#pe" x="174.9" y="482.5"/><use href="#pe" x="179.8" y="482.4"/><use href="#pe" x="184.7" y="483.2"/><use href="#pe" x="189.6" y="481.7"/><use href="#pe" x="194.4" y="481.3"/><use href="#pe" x="199.3" y="481.2"/><use href="#pe" x="204.2" y="480.9"/><use href="#pe" x="209.1" y="478.5"/><use href="#pe" x="213.9" y="479.4"/><use href="#pe" x="218.8" y="478.9"/><use href="#pe" x="223.7" y="476.9"/><use href="#pe" x="228.6" y="476.4"/><use href="#pe" x="233.4" y="475.8"/><use href="#pe" x="238.3" y="473.6"/><use href="#pe" x="243.2" y="472.2"/><use href="#pe" x="248.1" y="470.6"/><use href="#pe" x="253" y="468.3"/><use href="#pe" x="257.8" y="467.3"/><use href="#pe" x="262.7" y="466.6"/><use href="#pe" x="267.6" y="464.5"/><use href="#pe" x="272.5" y="462.9"/><use href="#pe" x="277.3" y="460.2"/><use href="#pe" x="282.2" y="460"/><use href="#pe" x="287.1" y="458.9"/><use href="#pe" x="292" y="454"/><use href="#pe" x="296.8" y="453.5"/><use href="#pe" x="301.7" y="452.1"/><use href="#pe" x="306.6" y="446.4"/><use href="#pe" x="311.5" y="444.9"/><use href="#pe" x="316.4" y="440.1"/><use href="#pe" x="321.2" y="438.7"/><use href="#pe" x="326.1" y="436.6"/><use href="#pe" x="331" y="433.8"/><use href="#pe" x="335.9" y="428.8"/><use href="#pe" x="340.7" y="424.6"/><use href="#pe" x="345.6" y="422"/><use href="#pe" x="350.5" y="417.7"/><use href="#pe" x="355.4" y="416.7"/><use href="#pe" x="360.3" y="409.6"/><use href="#pe" x="365.1" y="408.7"/><use href="#pe" x="370" y="401.9"/><use href="#pe" x="374.9" y="396.3"/><use href="#pe" x="379.8" y="393.2"/><use href="#pe" x="384.6" y="390"/><use href="#pe" x="389.5" y="386.4"/><use href="#pe" x="394.4" y="374.6"/><use href="#pe" x="399.3" y="366.5"/><use href="#pe" x="404.1" y="359.2"/><use href="#pe" x="409" y="359.3"/><use href="#pe" x="413.9" y="351.3"/><use href="#pe" x="418.8" y="341"/><use href="#pe" x="423.7" y="337.2"/><use href="#pe" x="428.5" y="334.7"/><use href="#pe" x="433.4" y="322.1"/><use href="#pe" x="438.3" y="319.7"/><use href="#pe" x="443.2" y="307.3"/><use href="#pe" x="448" y="304.7"/><use href="#pe" x="452.9" y="301.2"/><use href="#pe" x="457.8" y="287.3"/><use href="#pe" x="462.7" y="284.7"/><use href="#pe" x="467.5" y="272.1"/><use href="#pe" x="472.4" y="269.5"/><use href="#pe" x="477.3" y="262.9"/><use href="#pe" x="482.2" y="260.7"/><use href="#pe" x="487.1" y="256.8"/><use href="#pe" x="491.9" y="259.4"/><use href="#pe" x="496.8" y="256"/><use href="#pe" x="501.7" y="254.5"/><use href="#pe" x="506.6" y="263.3"/><use href="#pe" x="511.4" y="268.1"/><use href="#pe" x="516.3" y="273.4"/><use href="#pe" x="521.2" y="283.3"/><use href="#pe" x="526.1" y="298.4"/><use href="#pe" x="530.9" y="306.6"/><use href="#pe" x="535.8" y="322.1"/><use href="#pe" x="540.7" y="334.7"/><use href="#pe" x="545.6" y="355.2"/><use href="#pe" x="550.5" y="374.4"/><use href="#pe" x="555.3" y="391.5"/><use href="#pe" x="560.2" y="410.1"/><use href="#pe" x="565.1" y="429.2"/><use href="#pe" x="570" y="442.7"/><use href="#pe" x="574.8" y="457.2"/><use href="#pe" x="579.7" y="469.3"/><use href="#pe" x="584.6" y="479.3"/><use href="#pe" x="589.5" y="484.9"/><use href="#pe" x="594.3" y="489.3"/><use href="#pe" x="599.2" y="491.9"/><use href="#pe" x="604.1" y="493.6"/><use href="#pe" x="609" y="494.5"/><use href="#pe" x="613.9" y="494.5"/><use href="#pe" x="618.7" y="494.5"/><use href="#pe" x="623.6" y="494.5"/><use href="#pe" x="628.5" y="494.5"/><use href="#pe" x="633.4" y="494.5"/><use href="#pe" x="638.2" y="494.5"/><use href="#pe" x="643.1" y="494.5"/><use href="#pe" x="648" y="494.5"/><use href="#pe" x="652.9" y="494.5"/><use href="#pe" x="657.7" y="494.5"/><use href="#pe" x="662.6" y="494.5"/><use href="#pe" x="667.5" y="494.5"/><use href="#pe" x="672.4" y="494.5"/><use href="#pe" x="677.3" y="494.5"/><use href="#pe" x="682.1" y="494.5"/><use href="#pe" x="687" y="494.5"/><use href="#pe" x="691.9" y="494.5"/><use href="#pe" x="696.8" y="494.5"/><use href="#pe" x="701.6" y="494.5"/><use href="#pe" x="706.5" y="494.5"/><use href="#pe" x="711.4" y="494.5"/><use href="#pe" x="716.3" y="494.5"/><use href="#pe" x="721.1" y="494.5"/><use href="#pe" x="726" y="494.5"/><use href="#pe" x="730.9" y="494.5"/><use href="#pe" x="735.8" y="494.5"/><use href="#pe" x="740.7" y="494.5"/><use href="#pe" x="745.5" y="494.5"/><use href="#pe" x="750.4" y="494.5"/><use href="#pe" x="755.3" y="494.5"/><use href="#pe" x="760.2" y="494.5"/><use href="#pe" x="765" y="494.5"/><use href="#pe" x="769.9" y="494.5"/><use href="#pe" x="774.8" y="494.5"/><use href="#pe" x="779.7" y="494.5"/><use href="#pe" x="784.5" y="494.5"/><use href="#pe" x="789.4" y="494.5"/><use href="#pe" x="794.3" y="494.5"/><use href="#pe" x="799.2" y="494.5"/><use href="#pe" x="804.1" y="494.5"/><use href="#pe" x="808.9" y="494.5"/><use href="#pe" x="813.8" y="494.5"/>
</g>
<g fill="#000080" stroke="none">
<polyline points="87.1,491.3 92,492.3 96.9,491.5 101.8,491.1 106.6,491.6 111.5,491 116.4,491.5 121.3,491.3 126.2,491.2 131,490.6 135.9,490.6 140.8,490 145.7,490.7 150.5,490.2 155.4,489.6 160.3,489.6 165.2,490.3 170,489.2 174.9,489.6 179.8,489.1 184.7,489 189.6,488.2 194.4,488.4 199.3,489.1 204.2,488.6 209.1,487.1 213.9,487.4 218.8,486.2 223.7,486.4 228.6,486.7 233.4,485.3 238.3,485.9 243.2,486 248.1,482.6 253,484.6 257.8,482.2 262.7,481.3 267.6,481.2 272.5,481.9 277.3,479.1 282.2,480.4 287.1,479.6 292,478 296.8,476 301.7,475.3 306.6,473.7 311.5,473.8 316.4,472.5 321.2,472.3 326.1,470.3 331,468.1 335.9,467.9 340.7,465.9 345.6,465.9 350.5,464.8 355.4,463 360.3,462.1 365.1,460.1 370,459.4 374.9,456.3 379.8,457.5 384.6,455.3 389.5,454.2 394.4,450.4 399.3,446.9 404.1,446.4 409,442.8 413.9,439.1 418.8,437.8 423.7,435.3 428.5,429.7 433.4,428 438.3,424.3 443.2,419.8 448,417 452.9,416.9 457.8,413.5 462.7,406.7 467.5,402.2 472.4,400.7 477.3,389.1 482.2,386.8 487.1,380.4 491.9,379.8 496.8,368.8 501.7,368.2 506.6,362.8 511.4,360.5 516.3,346 521.2,341 526.1,338.7 530.9,336.1 535.8,322.1 540.7,320.9 545.6,318.6 550.5,308.2 555.3,307.3 560.2,305.9 565.1,296 570,293.4 574.8,287.3 579.7,283.3 584.6,282.1 589.5,275.7 594.3,285.8 599.2,281.6 604.1,277.7 609,288.3 613.9,288.3 618.7,304.7 623.6,305.9 628.5,314.6 633.4,328.5 638.2,341.7 643.1,353.5 648,367 652.9,382.2 657.7,399.6 662.6,413.5 667.5,428.3 672.4,443.5 677.3,456.2 682.1,465.8 687,474.8 691.9,481.1 696.8,486.1 701.6,488.4 706.5,491 711.4,492.8 716.3,493.6 721.1,494.5 726,494.5 730.9,494.5 735.8,494.5 740.7,494.5 745.5,494.5 750.4,494.5 755.3,494.5 760.2,494.5 765,494.5 769.9,494.5 774.8,494.5 779.7,494.5 784.5,494.5 789.4,494.5 794.3,494.5 799.2,494.5 804.1,494.5 808.9,494.5 813.8,494.5" fill="none" stroke="#000080" stroke-width="2.4" stroke-linejoin="round"/>
<use href="#tr" x="87.1" y="491.3"/><use href="#tr" x="92" y="492.3"/><use href="#tr" x="96.9" y="491.5"/><use href="#tr" x="101.8" y="491.1"/><use href="#tr" x="106.6" y="491.6"/><use href="#tr" x="111.5" y="491"/><use href="#tr" x="116.4" y="491.5"/><use href="#tr" x="121.3" y="491.3"/><use href="#tr" x="126.2" y="491.2"/><use href="#tr" x="131" y="490.6"/><use href="#tr" x="135.9" y="490.6"/><use href="#tr" x="140.8" y="490"/><use href="#tr" x="145.7" y="490.7"/><use href="#tr" x="150.5" y="490.2"/><use href="#tr" x="155.4" y="489.6"/><use href="#tr" x="160.3" y="489.6"/><use href="#tr" x="165.2" y="490.3"/><use href="#tr" x="170" y="489.2"/><use href="#tr" x="174.9" y="489.6"/><use href="#tr" x="179.8" y="489.1"/><use href="#tr" x="184.7" y="489"/><use href="#tr" x="189.6" y="488.2"/><use href="#tr" x="194.4" y="488.4"/><use href="#tr" x="199.3" y="489.1"/><use href="#tr" x="204.2" y="488.6"/><use href="#tr" x="209.1" y="487.1"/><use href="#tr" x="213.9" y="487.4"/><use href="#tr" x="218.8" y="486.2"/><use href="#tr" x="223.7" y="486.4"/><use href="#tr" x="228.6" y="486.7"/><use href="#tr" x="233.4" y="485.3"/><use href="#tr" x="238.3" y="485.9"/><use href="#tr" x="243.2" y="486"/><use href="#tr" x="248.1" y="482.6"/><use href="#tr" x="253" y="484.6"/><use href="#tr" x="257.8" y="482.2"/><use href="#tr" x="262.7" y="481.3"/><use href="#tr" x="267.6" y="481.2"/><use href="#tr" x="272.5" y="481.9"/><use href="#tr" x="277.3" y="479.1"/><use href="#tr" x="282.2" y="480.4"/><use href="#tr" x="287.1" y="479.6"/><use href="#tr" x="292" y="478"/><use href="#tr" x="296.8" y="476"/><use href="#tr" x="301.7" y="475.3"/><use href="#tr" x="306.6" y="473.7"/><use href="#tr" x="311.5" y="473.8"/><use href="#tr" x="316.4" y="472.5"/><use href="#tr" x="321.2" y="472.3"/><use href="#tr" x="326.1" y="470.3"/><use href="#tr" x="331" y="468.1"/><use href="#tr" x="335.9" y="467.9"/><use href="#tr" x="340.7" y="465.9"/><use href="#tr" x="345.6" y="465.9"/><use href="#tr" x="350.5" y="464.8"/><use href="#tr" x="355.4" y="463"/><use href="#tr" x="360.3" y="462.1"/><use href="#tr" x="365.1" y="460.1"/><use href="#tr" x="370" y="459.4"/><use href="#tr" x="374.9" y="456.3"/><use href="#tr" x="379.8" y="457.5"/><use href="#tr" x="384.6" y="455.3"/><use href="#tr" x="389.5" y="454.2"/><use href="#tr" x="394.4" y="450.4"/><use href="#tr" x="399.3" y="446.9"/><use href="#tr" x="404.1" y="446.4"/><use href="#tr" x="409" y="442.8"/><use href="#tr" x="413.9" y="439.1"/><use href="#tr" x="418.8" y="437.8"/><use href="#tr" x="423.7" y="435.3"/><use href="#tr" x="428.5" y="429.7"/><use href="#tr" x="433.4" y="428"/><use href="#tr" x="438.3" y="424.3"/><use href="#tr" x="443.2" y="419.8"/><use href="#tr" x="448" y="417"/><use href="#tr" x="452.9" y="416.9"/><use href="#tr" x="457.8" y="413.5"/><use href="#tr" x="462.7" y="406.7"/><use href="#tr" x="467.5" y="402.2"/><use href="#tr" x="472.4" y="400.7"/><use href="#tr" x="477.3" y="389.1"/><use href="#tr" x="482.2" y="386.8"/><use href="#tr" x="487.1" y="380.4"/><use href="#tr" x="491.9" y="379.8"/><use href="#tr" x="496.8" y="368.8"/><use href="#tr" x="501.7" y="368.2"/><use href="#tr" x="506.6" y="362.8"/><use href="#tr" x="511.4" y="360.5"/><use href="#tr" x="516.3" y="346"/><use href="#tr" x="521.2" y="341"/><use href="#tr" x="526.1" y="338.7"/><use href="#tr" x="530.9" y="336.1"/><use href="#tr" x="535.8" y="322.1"/><use href="#tr" x="540.7" y="320.9"/><use href="#tr" x="545.6" y="318.6"/><use href="#tr" x="550.5" y="308.2"/><use href="#tr" x="555.3" y="307.3"/><use href="#tr" x="560.2" y="305.9"/><use href="#tr" x="565.1" y="296"/><use href="#tr" x="570" y="293.4"/><use href="#tr" x="574.8" y="287.3"/><use href="#tr" x="579.7" y="283.3"/><use href="#tr" x="584.6" y="282.1"/><use href="#tr" x="589.5" y="275.7"/><use href="#tr" x="594.3" y="285.8"/><use href="#tr" x="599.2" y="281.6"/><use href="#tr" x="604.1" y="277.7"/><use href="#tr" x="609" y="288.3"/><use href="#tr" x="613.9" y="288.3"/><use href="#tr" x="618.7" y="304.7"/><use href="#tr" x="623.6" y="305.9"/><use href="#tr" x="628.5" y="314.6"/><use href="#tr" x="633.4" y="328.5"/><use href="#tr" x="638.2" y="341.7"/><use href="#tr" x="643.1" y="353.5"/><use href="#tr" x="648" y="367"/><use href="#tr" x="652.9" y="382.2"/><use href="#tr" x="657.7" y="399.6"/><use href="#tr" x="662.6" y="413.5"/><use href="#tr" x="667.5" y="428.3"/><use href="#tr" x="672.4" y="443.5"/><use href="#tr" x="677.3" y="456.2"/><use href="#tr" x="682.1" y="465.8"/><use href="#tr" x="687" y="474.8"/><use href="#tr" x="691.9" y="481.1"/><use href="#tr" x="696.8" y="486.1"/><use href="#tr" x="701.6" y="488.4"/><use href="#tr" x="706.5" y="491"/><use href="#tr" x="711.4" y="492.8"/><use href="#tr" x="716.3" y="493.6"/><use href="#tr" x="721.1" y="494.5"/><use href="#tr" x="726" y="494.5"/><use href="#tr" x="730.9" y="494.5"/><use href="#tr" x="735.8" y="494.5"/><use href="#tr" x="740.7" y="494.5"/><use href="#tr" x="745.5" y="494.5"/><use href="#tr" x="750.4" y="494.5"/><use href="#tr" x="755.3" y="494.5"/><use href="#tr" x="760.2" y="494.5"/><use href="#tr" x="765" y="494.5"/><use href="#tr" x="769.9" y="494.5"/><use href="#tr" x="774.8" y="494.5"/><use href="#tr" x="779.7" y="494.5"/><use href="#tr" x="784.5" y="494.5"/><use href="#tr" x="789.4" y="494.5"/><use href="#tr" x="794.3" y="494.5"/><use href="#tr" x="799.2" y="494.5"/><use href="#tr" x="804.1" y="494.5"/><use href="#tr" x="808.9" y="494.5"/><use href="#tr" x="813.8" y="494.5"/>
</g>
<g fill="#8000ff" stroke="none">
<polyline points="87.1,492.8 92,492.7 96.9,492.6 101.8,492.4 106.6,492.4 111.5,492 116.4,492.4 121.3,492.5 126.2,492.1 131,491.8 135.9,491.5 140.8,491.5 145.7,492.3 150.5,491.5 155.4,491 160.3,491.4 165.2,491.6 170,491.2 174.9,491.4 179.8,490.9 184.7,491 189.6,490.3 194.4,490.4 199.3,490.7 204.2,489.9 209.1,489.5 213.9,489.9 218.8,489.6 223.7,490.3 228.6,488.6 233.4,489 238.3,489.5 243.2,489.1 248.1,487.9 253,487.1 257.8,487.2 262.7,486.6 267.6,487.2 272.5,487 277.3,485.3 282.2,485.3 287.1,485.2 292,484 296.8,485 301.7,484.2 306.6,482.7 311.5,481.7 316.4,482.5 321.2,480.8 326.1,482.1 331,481 335.9,480.9 340.7,481.6 345.6,479.5 350.5,478.1 355.4,478.2 360.3,477.3 365.1,475.2 370,476.7 374.9,476.1 379.8,474.5 384.6,474.1 389.5,470.8 394.4,470.9 399.3,471 404.1,469.7 409,465 413.9,467.6 418.8,466.6 423.7,464 428.5,462.2 433.4,461.2 438.3,461.2 443.2,460.1 448,455.9 452.9,454.8 457.8,454.9 462.7,449.1 467.5,447.7 472.4,446.5 477.3,443.7 482.2,440.4 487.1,439.8 491.9,438.9 496.8,435 501.7,436.4 506.6,429.8 511.4,428.9 516.3,422.1 521.2,417.3 526.1,415.1 530.9,415.5 535.8,411.5 540.7,405.9 545.6,403.5 550.5,397.5 555.3,392.5 560.2,388.7 565.1,380.8 570,381.5 574.8,370.1 579.7,367.4 584.6,365.6 589.5,366.6 594.3,356.6 599.2,350 604.1,346 609,342.1 613.9,337.2 618.7,330.8 623.6,327.3 628.5,320.4 633.4,319.7 638.2,313.4 643.1,307.3 648,301.2 652.9,301.2 657.7,301.7 662.6,301.2 667.5,296 672.4,298.4 677.3,297 682.1,298.4 687,302.1 691.9,304.7 696.8,310.8 701.6,316.9 706.5,323.9 711.4,332.2 716.3,343.5 721.1,355.7 726,365.7 730.9,380.7 735.8,395.3 740.7,409.6 745.5,424 750.4,432.2 755.3,447.1 760.2,458.8 765,466.6 769.9,474.5 774.8,479.7 779.7,484.9 784.5,488 789.4,490.1 794.3,491.9 799.2,492.8 804.1,493.6 808.9,494.1 813.8,494.5" fill="none" stroke="#8000ff" stroke-width="2.4" stroke-linejoin="round"/>
<use href="#st" x="87.1" y="492.8"/><use href="#st" x="92" y="492.7"/><use href="#st" x="96.9" y="492.6"/><use href="#st" x="101.8" y="492.4"/><use href="#st" x="106.6" y="492.4"/><use href="#st" x="111.5" y="492"/><use href="#st" x="116.4" y="492.4"/><use href="#st" x="121.3" y="492.5"/><use href="#st" x="126.2" y="492.1"/><use href="#st" x="131" y="491.8"/><use href="#st" x="135.9" y="491.5"/><use href="#st" x="140.8" y="491.5"/><use href="#st" x="145.7" y="492.3"/><use href="#st" x="150.5" y="491.5"/><use href="#st" x="155.4" y="491"/><use href="#st" x="160.3" y="491.4"/><use href="#st" x="165.2" y="491.6"/><use href="#st" x="170" y="491.2"/><use href="#st" x="174.9" y="491.4"/><use href="#st" x="179.8" y="490.9"/><use href="#st" x="184.7" y="491"/><use href="#st" x="189.6" y="490.3"/><use href="#st" x="194.4" y="490.4"/><use href="#st" x="199.3" y="490.7"/><use href="#st" x="204.2" y="489.9"/><use href="#st" x="209.1" y="489.5"/><use href="#st" x="213.9" y="489.9"/><use href="#st" x="218.8" y="489.6"/><use href="#st" x="223.7" y="490.3"/><use href="#st" x="228.6" y="488.6"/><use href="#st" x="233.4" y="489"/><use href="#st" x="238.3" y="489.5"/><use href="#st" x="243.2" y="489.1"/><use href="#st" x="248.1" y="487.9"/><use href="#st" x="253" y="487.1"/><use href="#st" x="257.8" y="487.2"/><use href="#st" x="262.7" y="486.6"/><use href="#st" x="267.6" y="487.2"/><use href="#st" x="272.5" y="487"/><use href="#st" x="277.3" y="485.3"/><use href="#st" x="282.2" y="485.3"/><use href="#st" x="287.1" y="485.2"/><use href="#st" x="292" y="484"/><use href="#st" x="296.8" y="485"/><use href="#st" x="301.7" y="484.2"/><use href="#st" x="306.6" y="482.7"/><use href="#st" x="311.5" y="481.7"/><use href="#st" x="316.4" y="482.5"/><use href="#st" x="321.2" y="480.8"/><use href="#st" x="326.1" y="482.1"/><use href="#st" x="331" y="481"/><use href="#st" x="335.9" y="480.9"/><use href="#st" x="340.7" y="481.6"/><use href="#st" x="345.6" y="479.5"/><use href="#st" x="350.5" y="478.1"/><use href="#st" x="355.4" y="478.2"/><use href="#st" x="360.3" y="477.3"/><use href="#st" x="365.1" y="475.2"/><use href="#st" x="370" y="476.7"/><use href="#st" x="374.9" y="476.1"/><use href="#st" x="379.8" y="474.5"/><use href="#st" x="384.6" y="474.1"/><use href="#st" x="389.5" y="470.8"/><use href="#st" x="394.4" y="470.9"/><use href="#st" x="399.3" y="471"/><use href="#st" x="404.1" y="469.7"/><use href="#st" x="409" y="465"/><use href="#st" x="413.9" y="467.6"/><use href="#st" x="418.8" y="466.6"/><use href="#st" x="423.7" y="464"/><use href="#st" x="428.5" y="462.2"/><use href="#st" x="433.4" y="461.2"/><use href="#st" x="438.3" y="461.2"/><use href="#st" x="443.2" y="460.1"/><use href="#st" x="448" y="455.9"/><use href="#st" x="452.9" y="454.8"/><use href="#st" x="457.8" y="454.9"/><use href="#st" x="462.7" y="449.1"/><use href="#st" x="467.5" y="447.7"/><use href="#st" x="472.4" y="446.5"/><use href="#st" x="477.3" y="443.7"/><use href="#st" x="482.2" y="440.4"/><use href="#st" x="487.1" y="439.8"/><use href="#st" x="491.9" y="438.9"/><use href="#st" x="496.8" y="435"/><use href="#st" x="501.7" y="436.4"/><use href="#st" x="506.6" y="429.8"/><use href="#st" x="511.4" y="428.9"/><use href="#st" x="516.3" y="422.1"/><use href="#st" x="521.2" y="417.3"/><use href="#st" x="526.1" y="415.1"/><use href="#st" x="530.9" y="415.5"/><use href="#st" x="535.8" y="411.5"/><use href="#st" x="540.7" y="405.9"/><use href="#st" x="545.6" y="403.5"/><use href="#st" x="550.5" y="397.5"/><use href="#st" x="555.3" y="392.5"/><use href="#st" x="560.2" y="388.7"/><use href="#st" x="565.1" y="380.8"/><use href="#st" x="570" y="381.5"/><use href="#st" x="574.8" y="370.1"/><use href="#st" x="579.7" y="367.4"/><use href="#st" x="584.6" y="365.6"/><use href="#st" x="589.5" y="366.6"/><use href="#st" x="594.3" y="356.6"/><use href="#st" x="599.2" y="350"/><use href="#st" x="604.1" y="346"/><use href="#st" x="609" y="342.1"/><use href="#st" x="613.9" y="337.2"/><use href="#st" x="618.7" y="330.8"/><use href="#st" x="623.6" y="327.3"/><use href="#st" x="628.5" y="320.4"/><use href="#st" x="633.4" y="319.7"/><use href="#st" x="638.2" y="313.4"/><use href="#st" x="643.1" y="307.3"/><use href="#st" x="648" y="301.2"/><use href="#st" x="652.9" y="301.2"/><use href="#st" x="657.7" y="301.7"/><use href="#st" x="662.6" y="301.2"/><use href="#st" x="667.5" y="296"/><use href="#st" x="672.4" y="298.4"/><use href="#st" x="677.3" y="297"/><use href="#st" x="682.1" y="298.4"/><use href="#st" x="687" y="302.1"/><use href="#st" x="691.9" y="304.7"/><use href="#st" x="696.8" y="310.8"/><use href="#st" x="701.6" y="316.9"/><use href="#st" x="706.5" y="323.9"/><use href="#st" x="711.4" y="332.2"/><use href="#st" x="716.3" y="343.5"/><use href="#st" x="721.1" y="355.7"/><use href="#st" x="726" y="365.7"/><use href="#st" x="730.9" y="380.7"/><use href="#st" x="735.8" y="395.3"/><use href="#st" x="740.7" y="409.6"/><use href="#st" x="745.5" y="424"/><use href="#st" x="750.4" y="432.2"/><use href="#st" x="755.3" y="447.1"/><use href="#st" x="760.2" y="458.8"/><use href="#st" x="765" y="466.6"/><use href="#st" x="769.9" y="474.5"/><use href="#st" x="774.8" y="479.7"/><use href="#st" x="779.7" y="484.9"/><use href="#st" x="784.5" y="488"/><use href="#st" x="789.4" y="490.1"/><use href="#st" x="794.3" y="491.9"/><use href="#st" x="799.2" y="492.8"/><use href="#st" x="804.1" y="493.6"/><use href="#st" x="808.9" y="494.1"/><use href="#st" x="813.8" y="494.5"/>
</g>
</g>
<rect x="615.4" y="14.5" width="202.8" height="252.9" fill="#fff" stroke="#3c3c3c" stroke-width="1.2"/>
<g fill="#000000"><line x1="632.8" x2="697.8" y1="41.2" y2="41.2" stroke="#000000" stroke-width="2.4"/><use href="#sq" x="665.3" y="41.2"/></g>
<g transform="translate(809.2 51.2) scale(1.015 1.055)"><text text-anchor="end">5.3keV</text></g>
<g fill="#ff0000"><line x1="632.8" x2="697.8" y1="76.2" y2="76.2" stroke="#ff0000" stroke-width="2.4"/><use href="#ci" x="665.3" y="76.2"/></g>
<g transform="translate(809.2 86.2) scale(1.015 1.055)"><text text-anchor="end">7.3keV</text></g>
<g fill="#0000ff"><line x1="632.8" x2="697.8" y1="111.3" y2="111.3" stroke="#0000ff" stroke-width="2.4"/><use href="#di" x="665.3" y="111.3"/></g>
<g transform="translate(809.2 121.3) scale(1.015 1.055)"><text text-anchor="end"><tspan class="h">1</tspan><tspan class="h">1</tspan>.3keV</text><use href="#one" transform="translate(-102.71 0.00) scale(0.01367 -0.01367)"/><use href="#one" transform="translate(-87.14 0.00) scale(0.01367 -0.01367)"/></g>
<g fill="#ff00ff"><line x1="632.8" x2="697.8" y1="146.3" y2="146.3" stroke="#ff00ff" stroke-width="2.4"/><use href="#hx" x="665.3" y="146.3"/></g>
<g transform="translate(809.2 156.3) scale(1.015 1.055)"><text text-anchor="end"><tspan class="h">1</tspan>4.3keV</text><use href="#one" transform="translate(-102.71 0.00) scale(0.01367 -0.01367)"/></g>
<g fill="#008000"><line x1="632.8" x2="697.8" y1="181.4" y2="181.4" stroke="#008000" stroke-width="2.4"/><use href="#pe" x="665.3" y="181.4"/></g>
<g transform="translate(809.2 191.4) scale(1.015 1.055)"><text text-anchor="end"><tspan class="h">1</tspan>7.3keV</text><use href="#one" transform="translate(-102.71 0.00) scale(0.01367 -0.01367)"/></g>
<g fill="#000080"><line x1="632.8" x2="697.8" y1="216.4" y2="216.4" stroke="#000080" stroke-width="2.4"/><use href="#tr" x="665.3" y="216.4"/></g>
<g transform="translate(809.2 226.4) scale(1.015 1.055)"><text text-anchor="end">2<tspan class="h">1</tspan>.3keV</text><use href="#one" transform="translate(-87.14 0.00) scale(0.01367 -0.01367)"/></g>
<g fill="#8000ff"><line x1="632.8" x2="697.8" y1="251.5" y2="251.5" stroke="#8000ff" stroke-width="2.4"/><use href="#st" x="665.3" y="251.5"/></g>
<g transform="translate(809.2 261.5) scale(1.015 1.055)"><text text-anchor="end">24.3keV</text></g>
</svg>
</body></html>
